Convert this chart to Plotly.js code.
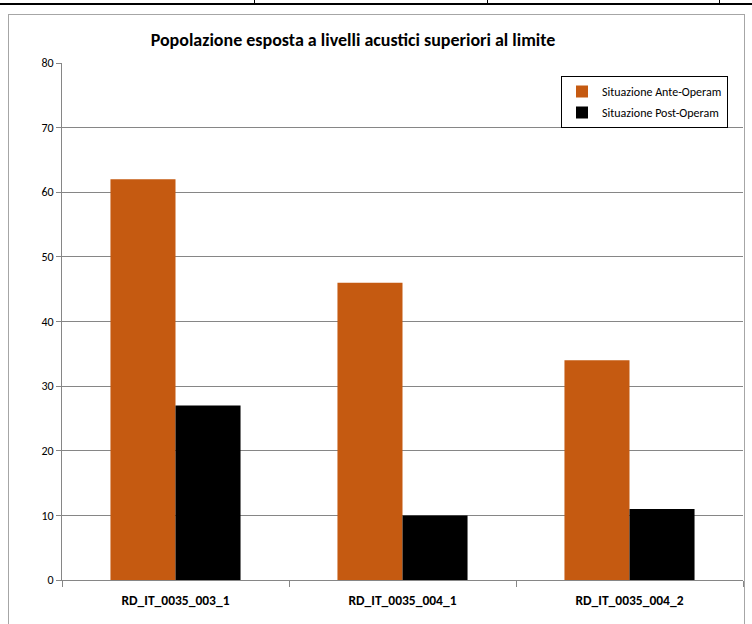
<!DOCTYPE html>
<html>
<head>
<meta charset="utf-8">
<script src="https://cdn.plot.ly/plotly-3.0.1.min.js"></script>
<style>
  html, body { margin: 0; padding: 0; background: #fff; }
  #wrap { position: relative; width: 752px; height: 624px; overflow: hidden; }
  #chart { position: absolute; left: 0; top: 0; width: 752px; height: 624px; }
  .ln { position: absolute; background: #000; }
  .frame { position: absolute; left: 8px; top: 14px; width: 737px; height: 620px; border: 1px solid #a6a6a6; box-sizing: border-box; pointer-events: none; }
</style>
</head>
<body>
<div id="wrap">
  <div id="chart"></div>
  <div class="ln" style="left:0;top:3px;width:752px;height:2px;"></div>
  <div class="ln" style="left:254px;top:0;width:1px;height:5px;"></div>
  <div class="ln" style="left:487px;top:0;width:1px;height:5px;"></div>
  <div class="ln" style="left:719px;top:0;width:1px;height:5px;"></div>
  <div class="frame"></div>
</div>
<script>
const categories = ["RD_IT_0035_003_1", "RD_IT_0035_004_1", "RD_IT_0035_004_2"];
const anteOperam = [62, 46, 34];
const postOperam = [27, 10, 11];
const seriesNames = ["Situazione Ante-Operam", "Situazione Post-Operam"];
const yTicks = [0, 10, 20, 30, 40, 50, 60, 70, 80];

const font = "Carlito, 'Liberation Sans Narrow', 'Open Sans', sans-serif";

const data = [
  { type: "bar", x: categories, y: anteOperam, name: seriesNames[0], legendgroup: "a",
    marker: { color: "#C55A11" } },
  { type: "bar", x: categories, y: postOperam, name: seriesNames[1], legendgroup: "b",
    marker: { color: "#000000" } }
];

const layout = {
  width: 752, height: 624,
  margin: { l: 62, r: 9, t: 63, b: 44, autoexpand: false },
  paper_bgcolor: "#fff", plot_bgcolor: "#fff",
  font: { family: font, color: "#000" },
  title: { text: "<b>Popolazione esposta a livelli acustici superiori al limite</b>",
           font: { size: 18, family: font, color: "#000" },
           x: 353 / 752, xanchor: "center", xref: "container",
           y: 1 - 40 / 624, yanchor: "middle", yref: "container" },
  barmode: "group",
  bargap: 0.427,
  bargroupgap: 0,
  showlegend: true,
  legend: { x: (728 - 62) / 681, xanchor: "right", y: (580 - 76) / 517, yanchor: "top",
            bordercolor: "#000", borderwidth: 1, bgcolor: "#fff",
            font: { size: 12, family: font, color: "#000" },
            itemwidth: 30,
            traceorder: "grouped", tracegroupgap: 2 },
  xaxis: { type: "category", tickson: "boundaries", ticks: "outside", ticklen: 6,
           tickcolor: "#868686", showline: true, linecolor: "#868686", linewidth: 1,
           showgrid: false, tickfont: { size: 13.5, family: font, color: "#000" },
           ticklabelstandoff: 8, automargin: false,
           tickprefix: "<b>", ticksuffix: "</b>", fixedrange: true },
  yaxis: { range: [0, 80], tickvals: yTicks, ticks: "outside", ticklen: 5,
           tickcolor: "#868686", showline: true, linecolor: "#868686", linewidth: 1,
           showgrid: true, gridcolor: "#868686", gridwidth: 1, zeroline: false,
           automargin: false,
           tickfont: { size: 12, family: font, color: "#000" }, fixedrange: true }
};

Plotly.newPlot("chart", data, layout, { displayModeBar: false, staticPlot: true });
</script>
</body>
</html>
